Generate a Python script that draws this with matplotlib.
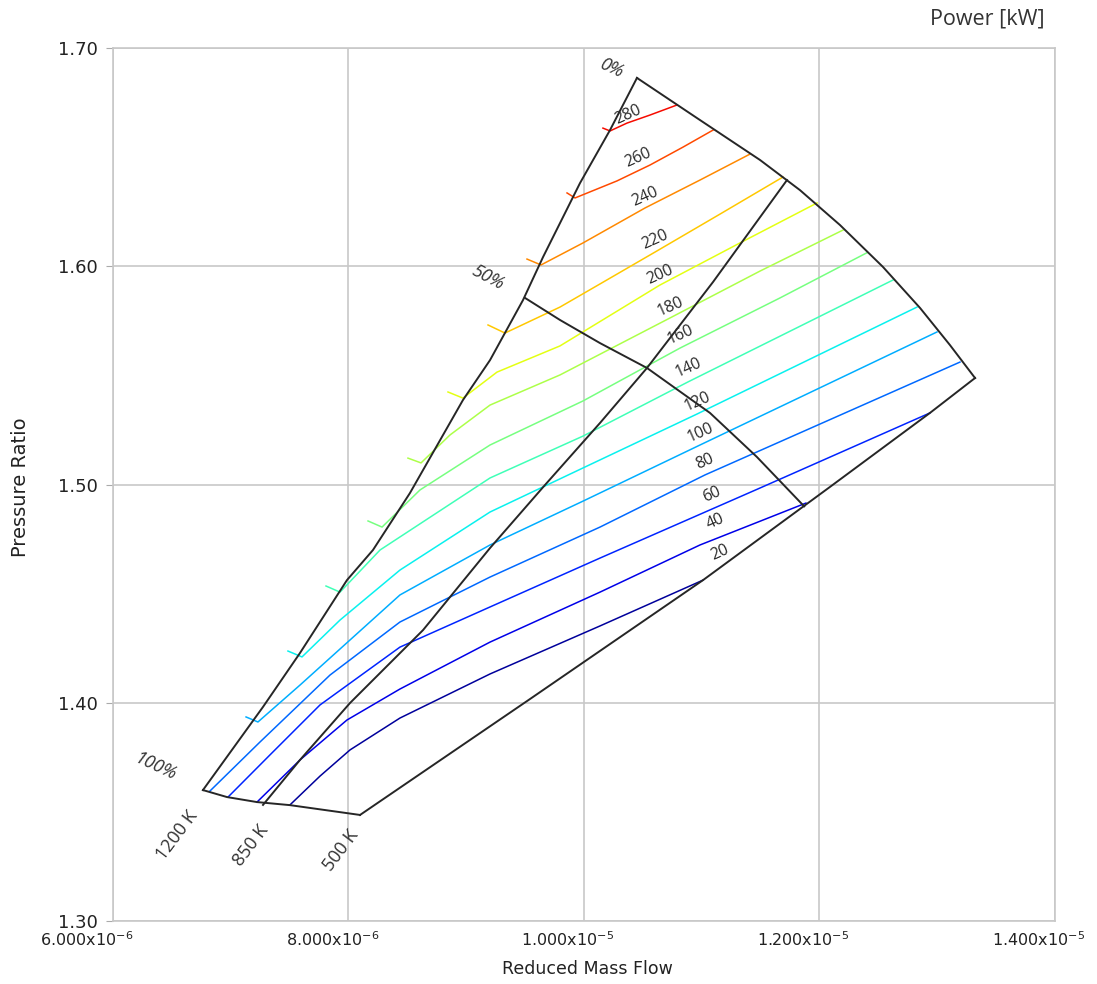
import numpy as np
import matplotlib.pyplot as plt
from matplotlib import transforms
from matplotlib.colors import Normalize

# mass flow in units of 1e-6, pressure ratio
x_unit = 1e-6

# map outline
line_1200K_x = [10.450, 10.221, 9.966, 9.652, 9.482, 9.202, 8.972, 8.522, 8.208, 7.987, 7.588, 7.274, 6.764]
line_1200K_y = [1.6863, 1.6624, 1.6381, 1.6042, 1.5845, 1.5570, 1.5387, 1.4961, 1.4700, 1.4562, 1.4228, 1.3981, 1.3600]
line_850K_x = [11.724, 11.096, 10.535, 10.136, 9.669, 9.202, 8.633, 8.013, 7.588, 7.274]
line_850K_y = [1.6395, 1.5928, 1.5534, 1.5282, 1.4998, 1.4709, 1.4333, 1.3999, 1.3738, 1.3532]
line_500K_x = [8.098, 9.541, 11.011, 12.089, 12.938, 13.321]
line_500K_y = [1.3486, 1.4017, 1.4562, 1.4989, 1.5328, 1.5488]
line_0pct_x = [10.450, 10.985, 11.495, 11.834, 12.174, 12.539, 12.854, 13.108, 13.321]
line_0pct_y = [1.6863, 1.6670, 1.6487, 1.6349, 1.6189, 1.5997, 1.5809, 1.5639, 1.5488]
line_50pct_x = [9.499, 9.796, 10.136, 10.535, 11.070, 11.469, 11.870]
line_50pct_y = [1.5855, 1.5754, 1.5648, 1.5534, 1.5328, 1.5126, 1.4900]
line_100pct_x = [6.764, 6.968, 7.223, 7.503, 8.098]
line_100pct_y = [1.3600, 1.3568, 1.3545, 1.3531, 1.3486]

# power lines [kW]
p280_x = [10.161, 10.221, 10.365, 10.561, 10.790]
p280_y = [1.6633, 1.6620, 1.6656, 1.6693, 1.6739]
p260_x = [9.856, 9.924, 10.280, 10.561, 10.841, 11.096]
p260_y = [1.6336, 1.6313, 1.6391, 1.6464, 1.6546, 1.6624]
p240_x = [9.516, 9.635, 9.992, 10.518, 10.985, 11.410]
p240_y = [1.6033, 1.6006, 1.6107, 1.6267, 1.6395, 1.6514]
p220_x = [9.185, 9.329, 9.796, 10.136, 10.603, 11.155, 11.690]
p220_y = [1.5731, 1.5694, 1.5813, 1.5919, 1.6065, 1.6239, 1.6409]
p200_x = [8.845, 8.972, 9.261, 9.796, 10.645, 11.325, 11.979]
p200_y = [1.5424, 1.5396, 1.5515, 1.5635, 1.5914, 1.6107, 1.6290]
p180_x = [8.505, 8.616, 8.862, 9.202, 9.796, 10.730, 11.495, 12.200]
p180_y = [1.5121, 1.5099, 1.5227, 1.5364, 1.5502, 1.5763, 1.5978, 1.6166]
p160_x = [8.166, 8.285, 8.607, 9.202, 9.992, 10.815, 11.665, 12.403]
p160_y = [1.4833, 1.4805, 1.4975, 1.5181, 1.5383, 1.5625, 1.5855, 1.6062]
p140_x = [7.809, 7.928, 8.268, 9.202, 9.992, 10.883, 12.624]
p140_y = [1.4535, 1.4507, 1.4700, 1.5030, 1.5222, 1.5470, 1.5937]
p120_x = [7.486, 7.605, 7.928, 8.437, 9.202, 9.992, 10.960, 12.828]
p120_y = [1.4237, 1.4210, 1.4379, 1.4608, 1.4874, 1.5076, 1.5323, 1.5813]
p100_x = [7.130, 7.231, 7.588, 8.437, 9.202, 9.992, 10.985, 12.998]
p100_y = [1.3935, 1.3912, 1.4081, 1.4494, 1.4723, 1.4924, 1.5181, 1.5699]
p80_x = [6.824, 7.248, 7.843, 8.437, 9.202, 10.136, 11.028, 13.193]
p80_y = [1.3596, 1.3820, 1.4127, 1.4370, 1.4576, 1.4805, 1.5044, 1.5561]
p60_x = [6.977, 7.333, 7.758, 8.437, 9.202, 10.136, 11.495, 12.938]
p60_y = [1.3568, 1.3761, 1.3990, 1.4255, 1.4439, 1.4663, 1.4984, 1.5328]
p40_x = [7.223, 7.588, 7.987, 8.437, 9.202, 10.136, 10.985, 11.885]
p40_y = [1.3545, 1.3738, 1.3921, 1.4063, 1.4278, 1.4507, 1.4723, 1.4915]
p20_x = [7.503, 7.758, 8.013, 8.437, 9.202, 10.136, 11.011]
p20_y = [1.3532, 1.3664, 1.3784, 1.3930, 1.4132, 1.4352, 1.4562]

power_levels = [280, 260, 240, 220, 200, 180, 160, 140, 120, 100, 80, 60, 40, 20]
power_x = [p280_x, p260_x, p240_x, p220_x, p200_x, p180_x, p160_x,
           p140_x, p120_x, p100_x, p80_x, p60_x, p40_x, p20_x]
power_y = [p280_y, p260_y, p240_y, p220_y, p200_y, p180_y, p160_y,
           p140_y, p120_y, p100_y, p80_y, p60_y, p40_y, p20_y]

# where the power labels sit
label_x = [10.374, 10.459, 10.518, 10.603, 10.645, 10.730, 10.815,
           10.883, 10.960, 10.985, 11.028, 11.087, 11.113, 11.155]
label_y = [1.6693, 1.6496, 1.6317, 1.6120, 1.5960, 1.5813, 1.5685,
           1.5534, 1.5378, 1.5236, 1.5103, 1.4952, 1.4828, 1.4686]

# outline annotations
outline_text = ['0%', '50%', '100%', '1200 K', '850 K', '500 K']
outline_x = [10.238, 9.185, 6.357, 6.544, 7.172, 7.936]
outline_y = [1.6908, 1.5946, 1.3706, 1.3394, 1.3348, 1.3325]
outline_rot = [-25, -28, -25, 53, 53, 53]

xticks = [6e-6, 8e-6, 1e-5, 1.2e-5, 1.4e-5]
xtick_labels = [r'$\mathregular{6.000x10^{-6}}$', r'$\mathregular{8.000x10^{-6}}$',
                r'$\mathregular{1.000x10^{-5}}$', r'$\mathregular{1.200x10^{-5}}$',
                r'$\mathregular{1.400x10^{-5}}$']
yticks = [1.30, 1.40, 1.50, 1.60, 1.70]
ytick_labels = ['1.30', '1.40', '1.50', '1.60', '1.70']

fig = plt.figure(figsize=(10.97, 9.84), dpi=100)
ax = fig.add_axes([0.1030, 0.0640, 0.8587, 0.8872])

cmap = plt.get_cmap('jet')
norm = Normalize(vmin=12, vmax=311)
for lev, xs, ys in zip(power_levels, power_x, power_y):
    ax.plot(np.array(xs) * x_unit, ys, color=cmap(norm(lev)), lw=1.1, zorder=3)

edge_col = '#262626'
for xs, ys in [(line_1200K_x, line_1200K_y), (line_850K_x, line_850K_y),
               (line_500K_x, line_500K_y), (line_0pct_x, line_0pct_y),
               (line_50pct_x, line_50pct_y), (line_100pct_x, line_100pct_y)]:
    ax.plot(np.array(xs) * x_unit, ys, color=edge_col, lw=1.4, zorder=4)

for lev, lx, ly in zip(power_levels, label_x, label_y):
    ax.text(lx * x_unit, ly, str(lev), fontsize=11.5, family='Open Sans',
            color='#2a2a2a', rotation=24, ha='center', va='center',
            rotation_mode='anchor', zorder=5)

for t, ox, oy, r in zip(outline_text, outline_x, outline_y, outline_rot):
    st = 'italic' if '%' in t else 'normal'
    ax.text(ox * x_unit, oy, t, fontsize=13, family='Open Sans', style=st,
            color='#333333', rotation=r, ha='center', va='center',
            rotation_mode='anchor', zorder=5)

ax.set_xlim(6e-6, 1.4e-5)
ax.set_ylim(1.30, 1.70)
ax.set_xticks(xticks)
ax.set_xticklabels(xtick_labels)
ax.set_yticks(yticks)
ax.set_yticklabels(ytick_labels)
ax.grid(True, color='#c8c8c8', lw=1.2, zorder=0)
for sp in ax.spines.values():
    sp.set_color('#c8c8c8')
    sp.set_linewidth(1.2)
ax.tick_params(axis='y', direction='out', length=5, color='#aaaaaa',
               labelsize=13, pad=6, labelcolor='#222222')
ax.tick_params(axis='x', length=0, labelsize=11.5, pad=7, labelcolor='#222222')

for i, lab in enumerate(ax.get_xticklabels()):
    dx = -0.26 if i == 0 else -0.16
    lab.set_transform(lab.get_transform() + transforms.ScaledTranslation(dx, 0, fig.dpi_scale_trans))

ax.set_xlabel('Reduced Mass Flow', fontsize=12.5, color='#222222')
ax.xaxis.set_label_coords(0.5037, -0.045)
ax.set_ylabel('Pressure Ratio', fontsize=14, color='#222222')
ax.yaxis.set_label_coords(-0.088, 0.497)

fig.text(0.8997, 0.9807, 'Power [kW]', fontsize=15.5, family='Open Sans',
         color='#333333', ha='center', va='center')

fig.savefig('out.png', dpi=100)
